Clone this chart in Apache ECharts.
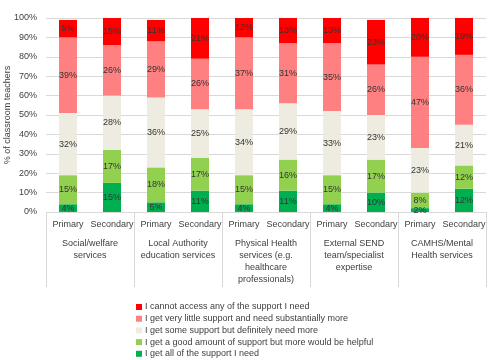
<!DOCTYPE html>
<html><head><meta charset="utf-8">
<script src="https://cdn.jsdelivr.net/npm/echarts@6/dist/echarts.min.js"></script>
<style>html,body{margin:0;padding:0;background:#fff}#c{width:500px;height:360px}</style>
</head><body><div id="c"></div>
<script>
const bars = ['Primary','Secondary','Primary','Secondary','Primary','Secondary','Primary','Secondary','Primary','Secondary'];
const groups = ['Social/welfare\nservices','Local Authority\neducation services','Physical Health\nservices (e.g.\nhealthcare\nprofessionals)','External SEND\nteam/specialist\nexpertise','CAMHS/Mental\nHealth services'];
const yTicks = [0,10,20,30,40,50,60,70,80,90,100];
const sAll = [4,15,5,11,4,11,4,10,2,12];
const sGood = [15,17,18,17,15,16,15,17,8,12];
const sSome = [32,28,36,25,34,29,33,23,23,21];
const sLittle = [39,26,29,26,37,31,35,26,47,36];
const sCannot = [9,15,11,21,12,13,13,23,20,19];
const names = ['I get all of the support I need','I get a good amount of support but more would be helpful','I get some support but definitely need more','I get very little support and need substantially more','I cannot access any of the support I need'];
const colors = ['#00B050','#92D050','#EEECE1','#FF8080','#FF0000'];
const seriesData = [sAll,sGood,sSome,sLittle,sCannot];
const font = 'Liberation Sans';
const chart = echarts.init(document.getElementById('c'));
chart.setOption({
  animation:false,
  textStyle:{fontFamily:font},
  grid:{left:46,right:14,top:18,bottom:148,containLabel:false,outerBoundsMode:'none'},
  legend:{
    orient:'vertical', left:131, top:297, height:80, itemWidth:6, itemHeight:6, itemGap:1.7,
    data:names.slice().reverse(),
    textStyle:{fontFamily:font,fontSize:9,color:'#404040',lineHeight:10,padding:[0,0,0,-2]},
    icon:'rect'
  },
  xAxis:[
    {type:'category',data:bars,position:'bottom',
     axisLine:{show:false},axisTick:{show:false},
     axisLabel:{interval:0,margin:8,fontSize:9,color:'#404040',fontFamily:font}},
    {type:'category',data:groups,position:'bottom',
     axisLine:{show:false},
     axisTick:{show:true,length:75,interval:0,lineStyle:{color:'#d9d9d9'}},
     axisLabel:{interval:0,margin:26,fontSize:9,lineHeight:12,color:'#404040',fontFamily:font,align:'center'}}
  ],
  yAxis:{type:'value',min:0,max:100,interval:10,
    name:'% of classroom teachers',nameLocation:'middle',nameGap:34,nameRotate:90,nameMoveOverlap:false,
    nameTextStyle:{fontSize:9,color:'#404040',fontFamily:font},
    axisLine:{show:false},axisTick:{show:false},
    axisLabel:{formatter:'{value}%',fontSize:9,color:'#404040',margin:9,fontFamily:font,
      customValues:yTicks},
    splitLine:{lineStyle:{color:'#d9d9d9'}}},
  series:seriesData.map((d,i)=>({
    name:names[i],type:'bar',stack:'s',xAxisIndex:0,barWidth:18,clip:true,
    itemStyle:{color:colors[i]},
    label:{show:true,position:'inside',formatter:'{t|{c}%}',
      rich:{t:{fontSize:9,color:'#333333',fontFamily:font,textBorderWidth:0}},
      color:'#333333',textBorderWidth:0,textBorderColor:'transparent'},
    data:d
  }))
});
</script></body></html>
